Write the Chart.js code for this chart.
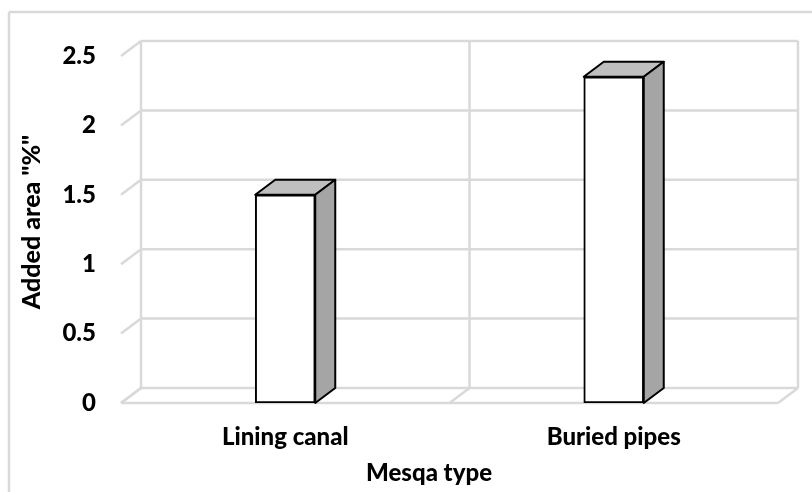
<!DOCTYPE html>
<html lang="en">
<head>
<meta charset="UTF-8">
<title>Added area by mesqa type</title>
<script src="https://cdn.jsdelivr.net/npm/chart.js"></script>
<style>
  html, body { margin: 0; padding: 0; background: #fff; }
  #wrap { position: relative; width: 812px; height: 492px; }
</style>
</head>
<body>
<div id="wrap"><canvas id="chart" width="812" height="492"></canvas></div>
<script>
const categories = ['Lining canal', 'Buried pipes'];
const addedArea = [1.5, 2.35];
const yTicks = [0, 0.5, 1, 1.5, 2, 2.5];

const xTitle = 'Mesqa type';
const yTitle = 'Added area "%"';

const FONT = 'Lato, "Open Sans", sans-serif';
const GRID = '#d9d9d9';
const DX = 20, DY = -15; // depth of the fake 3D box

function line(ctx, x1, y1, x2, y2) {
  ctx.beginPath();
  ctx.moveTo(x1, y1);
  ctx.lineTo(x2, y2);
  ctx.stroke();
}

// outer frame, back wall, floor, axis titles
const wallPlugin = {
  id: 'wall',
  beforeDatasetsDraw(chart) {
    const { ctx, chartArea: a, scales: { x, y } } = chart;
    ctx.save();
    ctx.strokeStyle = GRID;
    ctx.lineWidth = 2.5;
    // frame of the chart object, runs off the picture right and bottom
    line(ctx, 9, 12, 812, 12);
    line(ctx, 9, 12, 9, 492);
    yTicks.forEach(v => {
      const py = y.getPixelForValue(v);
      line(ctx, a.left, py, a.left + DX, py + DY);
      line(ctx, a.left + DX, py + DY, a.right + DX, py + DY);
    });
    // floor front edge and its separators
    const y0 = y.getPixelForValue(0);
    line(ctx, a.left, y0, a.right, y0);
    const mid = (x.getPixelForValue(0) + x.getPixelForValue(1)) / 2;
    [a.left, mid, a.right].forEach(px => {
      line(ctx, px, y0, px + DX, y0 + DY);
      line(ctx, px + DX, y0 + DY, px + DX, y.getPixelForValue(2.5) + DY);
    });
    ctx.restore();

    // titles sit off-centre in the original, so they are placed by hand
    ctx.save();
    ctx.fillStyle = '#000';
    ctx.font = '900 24px ' + FONT;
    ctx.textAlign = 'center';
    ctx.textBaseline = 'middle';
    ctx.fillText(xTitle, 429, 473);
    ctx.font = '900 25px ' + FONT;
    ctx.translate(32, 222);
    ctx.rotate(-Math.PI / 2);
    ctx.fillText(yTitle, 0, 0);
    ctx.restore();
  },
  afterDatasetsDraw(chart) {
    const { ctx } = chart;
    const meta = chart.getDatasetMeta(0);
    ctx.save();
    ctx.strokeStyle = '#000';
    ctx.lineWidth = 2;
    ctx.lineJoin = 'round';
    meta.data.forEach(bar => {
      const l = bar.x - bar.width / 2, r = bar.x + bar.width / 2;
      const t = bar.y, b = bar.base;
      ctx.fillStyle = '#bfbfbf';
      ctx.beginPath();
      ctx.moveTo(l, t);
      ctx.lineTo(l + DX, t + DY);
      ctx.lineTo(r + DX, t + DY);
      ctx.lineTo(r, t);
      ctx.closePath();
      ctx.fill();
      ctx.stroke();
      ctx.fillStyle = '#a5a5a5';
      ctx.beginPath();
      ctx.moveTo(r, t);
      ctx.lineTo(r + DX, t + DY);
      ctx.lineTo(r + DX, b + DY);
      ctx.lineTo(r, b);
      ctx.closePath();
      ctx.fill();
      ctx.stroke();
    });
    ctx.restore();
  }
};

new Chart(document.getElementById('chart'), {
  type: 'bar',
  data: {
    labels: categories,
    datasets: [{
      data: addedArea,
      backgroundColor: '#ffffff',
      borderColor: '#000000',
      borderWidth: 2,
      borderSkipped: false,
      barThickness: 60
    }]
  },
  options: {
    responsive: false,
    animation: false,
    layout: { padding: { top: 56, right: 34, left: 0, bottom: 0 } },
    plugins: { legend: { display: false }, tooltip: { enabled: false } },
    scales: {
      x: {
        grid: { display: false },
        border: { display: false },
        ticks: {
          color: '#000',
          padding: 12,
          maxRotation: 0,
          font: { family: FONT, size: 24, weight: '900' }
        },
        afterFit(scale) { scale.height = 89; }
      },
      y: {
        min: 0,
        max: 2.5,
        afterBuildTicks(scale) { scale.ticks = yTicks.map(value => ({ value })); },
        grid: { display: false },
        border: { display: false },
        ticks: {
          color: '#000',
          padding: 17,
          callback: value => String(value),
          font: { family: FONT, size: 24, weight: '900' }
        },
        afterFit(scale) { scale.width = 121; }
      }
    }
  },
  plugins: [wallPlugin]
});
</script>
</body>
</html>
